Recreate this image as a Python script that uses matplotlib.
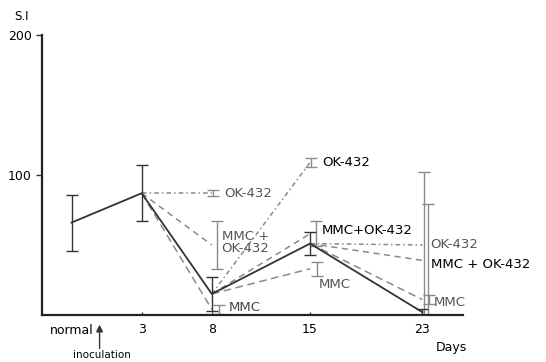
import matplotlib
matplotlib.use('Agg')
from matplotlib import pyplot as plt

# control (tumour-bearing) series
ctrl_days = [-2, 3, 8, 15, 23]
ctrl_si = [66, 87, 15, 51, 2]
ctrl_err = [20, 20, 12, 8, 2]

# treated groups: each branch starts at the control point of the previous day
branch_start = [3, 8, 15]
branch_end = [8, 15, 23]
ok432 = [87, 109, 50]
ok432_err = [2, 3, 52]
mmc_ok = [50, 58, 39]
mmc_ok_err = [17, 9, 40]
mmc = [4, 33, 11]
mmc_err = [3, 5, 3]

tick_days = [-2, 3, 8, 15, 23]
tick_labels = ['normal', '3', '8', '15', '23']

fig = plt.figure(figsize=(5.46, 3.62), dpi=100)
ax = fig.add_axes([0.077, 0.130, 0.771, 0.773])

gray = '#8a8a8a'
dark = '#333333'

ax.plot(ctrl_days, ctrl_si, color=dark, lw=1.3, zorder=3)
ax.errorbar(ctrl_days, ctrl_si, yerr=ctrl_err, fmt='none', ecolor=dark,
            elinewidth=1.0, capsize=4, capthick=1.0, zorder=3)

ctrl_at = dict(zip(ctrl_days, ctrl_si))
groups = [
    (ok432, ok432_err, (0, (3, 2, 1, 2)), 0.1),
    (mmc_ok, mmc_ok_err, (0, (4, 3)), 0.4),
    (mmc, mmc_err, (0, (5, 3)), 0.5),
]
for vals, errs, ls, dx in groups:
    for s, e, v, er in zip(branch_start, branch_end, vals, errs):
        ax.plot([s, e], [ctrl_at[s], v], color=gray, lw=1.1, ls=ls, zorder=2)
        ax.errorbar([e + dx], [v], yerr=[er], fmt='none', ecolor=gray,
                    elinewidth=1.0, capsize=4, capthick=1.0, zorder=2)

# labels next to the treated groups
fs = 9.5
lab = dict(fontsize=fs, va='center', ha='left')
ax.text(8.9, ok432[0], 'OK-432', color='#555555', **lab)
ax.text(8.7, mmc_ok[0] + 2, 'MMC +\nOK-432', color='#555555', linespacing=0.9, **lab)
ax.text(9.2, 5, 'MMC', color='#444444', **lab)
ax.text(15.9, ok432[1], 'OK-432', color='black', **lab)
ax.text(15.8, 60, 'MMC+OK-432', color='black', **lab)
ax.text(15.6, 22, 'MMC', color='#555555', **lab)
ax.text(23.6, ok432[2], 'OK-432', color='#555555', **lab)
ax.text(23.6, 36, 'MMC + OK-432', color='black', **lab)
ax.text(23.8, 9, 'MMC', color='#555555', **lab)

ax.set_xlim(-4.1, 25.9)
ax.set_ylim(0, 200)
ax.set_yticks([100, 200])
ax.set_xticks(tick_days[1:])
ax.set_xticklabels(tick_labels[1:])
ax.tick_params(axis='both', labelsize=9, length=4, width=1.0, color='#333333')
ax.tick_params(axis='x', length=2, direction='in', pad=6)
ax.text(-2.0, -0.055, tick_labels[0], transform=ax.get_xaxis_transform(),
        fontsize=9, ha='center', va='center')
for side in ['top', 'right']:
    ax.spines[side].set_visible(False)
for side in ['left', 'bottom']:
    ax.spines[side].set_linewidth(1.6)
    ax.spines[side].set_color('#222222')

# inoculation arrow
ax.annotate('', xy=(0, -0.025), xytext=(0, -0.13),
            xycoords=('data', 'axes fraction'), textcoords=('data', 'axes fraction'),
            arrowprops=dict(arrowstyle='-|>', color='#333333', lw=1.0), annotation_clip=False)
ax.text(0.2, -0.16, 'inoculation', transform=ax.get_xaxis_transform(),
        fontsize=7.5, ha='center', va='bottom', clip_on=False)
ax.text(25.1, -0.118, 'Days', transform=ax.get_xaxis_transform(),
        fontsize=9, ha='center', va='center', clip_on=False)
fig.text(0.04, 0.955, 'S.I', fontsize=8.5, ha='center', va='center')

plt.savefig('out.png', dpi=100)
